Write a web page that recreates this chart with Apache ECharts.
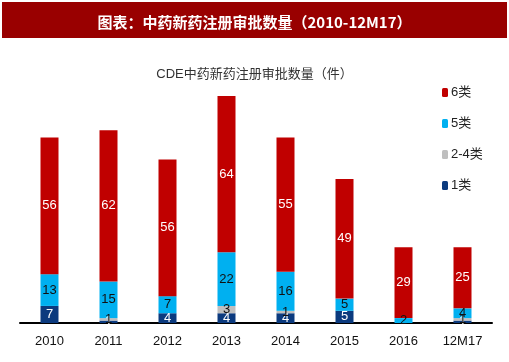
<!DOCTYPE html>
<html><head><meta charset="utf-8">
<script src="https://cdn.jsdelivr.net/npm/echarts@6/dist/echarts.min.js"></script>
<style>html,body{margin:0;padding:0;background:#fff}#c{width:509px;height:362px}</style>
</head><body><div id="c"></div>
<script>
const categories = ['2010','2011','2012','2013','2014','2015','2016','12M17'];
const cls1 = [7,1,4,4,4,5,0,1];
const cls24 = [0,1,0,3,1,0,0,1];
const cls5 = [13,15,7,22,16,5,2,4];
const cls6 = [56,62,56,64,55,49,29,25];
const seriesNames = ['1类','2-4类','5类','6类'];
const colors = ['#0B3A7E','#BFBFBF','#00B0F0','#C00000'];
const labelColors = ['#fff','#111','#111','#fff'];
const values = [cls1, cls24, cls5, cls6];

const chart = echarts.init(document.getElementById('c'));
chart.setOption({
  animation:false,
  backgroundColor:'#fff',
  graphic:[{type:'rect',shape:{x:2,y:2,width:505,height:36},style:{fill:'#990000'},z:-1}],
  title:[{
    text:'图表：中药新药注册审批数量（2010-12M17）',
    left:'center', top:10,
    textStyle:{color:'#fff',fontSize:15,fontWeight:'bold',fontFamily:'Noto Sans CJK SC'}
  },{
    text:'CDE中药新药注册审批数量（件）',
    left:'center', top:63,
    textStyle:{color:'#333',fontSize:13,fontWeight:'normal',fontFamily:'Liberation Sans, Noto Sans CJK SC'}
  }],
  legend:{
    orient:'vertical', left:437, top:81,
    data:['6类','5类','2-4类','1类'],
    itemWidth:6, itemHeight:9, itemGap:18,
    textStyle:{fontSize:13,color:'#222',fontFamily:'Liberation Sans, Noto Sans CJK SC',padding:[0,0,0,-2]},
    icon:'roundRect'
  },
  grid:{left:20,right:17,top:79,bottom:39},
  xAxis:{
    type:'category', data:categories,
    axisLine:{lineStyle:{color:'#000',width:2}},
    axisTick:{show:false},
    axisLabel:{color:'#111',fontSize:13,margin:12,fontFamily:'Liberation Sans'}
  },
  yAxis:{type:'value',min:0,max:100,show:false,splitLine:{show:false}},
  series: seriesNames.map((n,i)=>({
    name:n, type:'bar', stack:'total', barWidth:18,
    data: values[i],
    itemStyle:{color:colors[i]},
    label:{
      show:true, position:'inside', color:labelColors[i], fontSize:13,
      fontFamily:'Liberation Sans',
      formatter:p=>p.value===0?'':String(p.value)
    }
  }))
});
</script></body></html>
